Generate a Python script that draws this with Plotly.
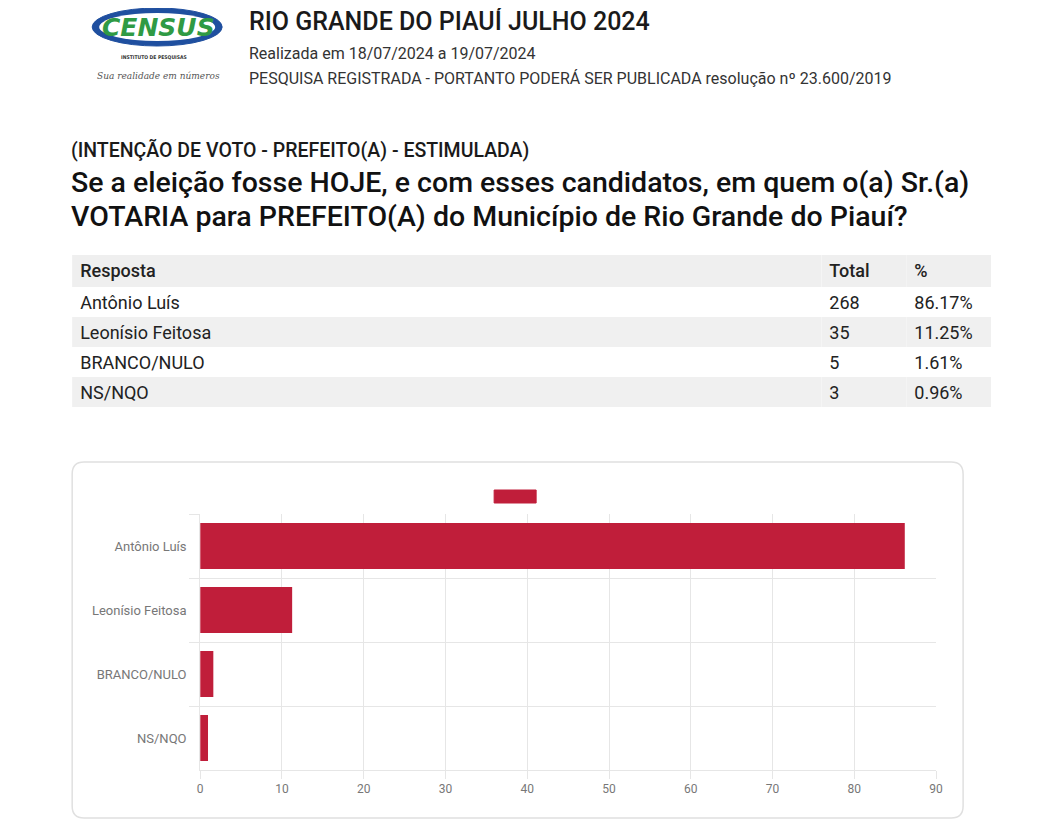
import plotly.graph_objects as go

OFF = 8            # default page body margin
W, H = 1060 - 2 * OFF, 812
SX, CX = 0.9905, 2.9   # measured horizontal rendering scale / shift

# ---- data ----
categories = ["Antônio Luís", "Leonísio Feitosa", "BRANCO/NULO", "NS/NQO"]
totals = [268, 35, 5, 3]
percents = [86.17, 11.25, 1.61, 0.96]
pct_labels = ["86.17%", "11.25%", "1.61%", "0.96%"]
table_header = ["Resposta", "Total", "%"]

title_text = "RIO GRANDE DO PIAUÍ JULHO 2024"
sub1 = "Realizada em 18/07/2024 a 19/07/2024"
sub2 = "PESQUISA REGISTRADA - PORTANTO PODERÁ SER PUBLICADA resolução nº 23.600/2019"
q_tag = "(INTENÇÃO DE VOTO - PREFEITO(A) - ESTIMULADA)"
q_line1 = "Se a eleição fosse HOJE, e com esses candidatos, em quem o(a) Sr.(a)"
q_line2 = "VOTARIA para PREFEITO(A) do Município de Rio Grande do Piauí?"

BAR = "rgb(192,30,58)"
GRID = "#e6e6e6"
FONT = "Roboto"


def px(x):
    return ((x - CX) / SX - OFF) / W


def py(y):
    return 1 - (y - OFF) / H


fig = go.Figure()

# ---- table ----
row_fill = ["white", "#f0f0f0", "white", "#f0f0f0"]
fig.add_trace(go.Table(
    domain=dict(x=[px(72), px(992)], y=[py(420), py(255)]),
    columnwidth=[750, 85, 85],
    header=dict(values=table_header, fill_color="#efefef", line_width=0,
                align="left", height=32,
                font=dict(family=FONT, size=18, color="#222", weight=500)),
    cells=dict(values=[categories, totals, pct_labels],
               fill_color=[row_fill, row_fill, row_fill], line_width=0,
               align="left", height=30,
               font=dict(family=FONT, size=18, color="#222")),
))

# ---- bar chart ----
fig.add_trace(go.Bar(
    x=percents, y=categories, orientation="h",
    marker=dict(color=BAR, line=dict(width=0)),
    showlegend=False, hoverinfo="x+y",
))

fig.update_layout(
    width=W, height=H,
    margin=dict(l=0, r=0, t=0, b=0),
    paper_bgcolor="white", plot_bgcolor="white",
    bargap=0.28,
    font=dict(family=FONT, color="#666"),
    xaxis=dict(domain=[px(200), px(936)], range=[0, 90], dtick=10,
               showgrid=True, gridcolor=GRID, gridwidth=1,
               zeroline=False, showline=True, linecolor=GRID,
               ticks="outside", ticklen=8, tickcolor=GRID,
               tickfont=dict(size=12, color="#777"), fixedrange=True),
    yaxis=dict(domain=[py(770), py(514)], type="category",
               autorange="reversed", tickson="boundaries",
               showgrid=True, gridcolor=GRID, gridwidth=1,
               showline=True, linecolor=GRID, zeroline=False,
               ticks="outside", ticklen=10, tickcolor=GRID,
               ticklabelstandoff=10,
               tickfont=dict(size=13, color="#777"), fixedrange=True),
)

# card outline with rounded corners
x0, x1, y0, y1, r = 72, 963, 462, 818, 12
rx, ry = r / W, r / H
path = (f"M {px(x0)+rx},{py(y0)} L {px(x1)-rx},{py(y0)} "
        f"Q {px(x1)},{py(y0)} {px(x1)},{py(y0)-ry} "
        f"L {px(x1)},{py(y1)+ry} Q {px(x1)},{py(y1)} {px(x1)-rx},{py(y1)} "
        f"L {px(x0)+rx},{py(y1)} Q {px(x0)},{py(y1)} {px(x0)},{py(y1)+ry} "
        f"L {px(x0)},{py(y0)-ry} Q {px(x0)},{py(y0)} {px(x0)+rx},{py(y0)} Z")
fig.add_shape(type="path", path=path, xref="paper", yref="paper",
              line=dict(color="#e0e0e0", width=1.5), fillcolor="rgba(0,0,0,0)",
              layer="below")

# legend box (no label)
fig.add_shape(type="rect", xref="paper", yref="paper",
              x0=px(494), x1=px(536), y0=py(503), y1=py(490),
              fillcolor=BAR, line=dict(color=BAR, width=1))

# ---- logo ----
fig.add_shape(type="circle", xref="paper", yref="paper",
              x0=px(92), x1=px(222), y0=py(46), y1=py(8),
              fillcolor="#1f4f9f", line=dict(color="#1f4f9f", width=1))
fig.add_shape(type="circle", xref="paper", yref="paper",
              x0=px(99), x1=px(215), y0=py(41), y1=py(13),
              fillcolor="white", line=dict(color="white", width=0))
fig.add_annotation(x=px(158), y=py(27), xref="paper", yref="paper",
                   text="<b><i>CENSUS</i></b>", showarrow=False,
                   font=dict(family="DejaVu Sans", size=25, color="#2f9a44"),
                   xanchor="center", yanchor="middle")
fig.add_annotation(x=px(154), y=py(57), xref="paper", yref="paper",
                   text="<b>INSTITUTO DE PESQUISAS</b>", showarrow=False,
                   font=dict(family="DejaVu Sans Condensed", size=5, color="#333"),
                   xanchor="center", yanchor="middle")
fig.add_annotation(x=px(158), y=py(76), xref="paper", yref="paper",
                   text="<i>Sua realidade em números</i>", showarrow=False,
                   font=dict(family="DejaVu Serif", size=9, color="#555"),
                   xanchor="center", yanchor="middle")


# ---- header texts ----
def txt(x, y, s, size, color="#222", weight=None):
    f = dict(family=FONT, size=size, color=color)
    if weight:
        f["weight"] = weight
    fig.add_annotation(x=px(x), y=py(y), xref="paper", yref="paper", text=s,
                       showarrow=False, font=f, xanchor="left", yanchor="middle")


txt(247, 21, title_text, 25, "#1a1a1a", 500)
txt(247, 54, sub1, 16, "#333")
txt(247, 79, sub2, 16, "#333")
txt(69, 150, q_tag, 19.5, "#1a1a1a", 500)
txt(69, 183, q_line1, 28.5, "#111", 500)
txt(69, 216, q_line2, 28.5, "#111", 500)

fig.write_html("out.html")
